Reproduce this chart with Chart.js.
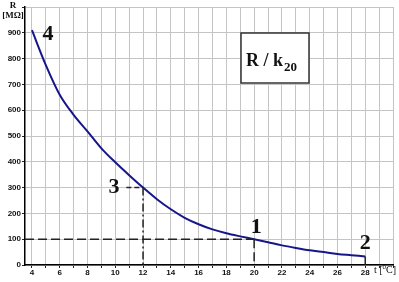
<!DOCTYPE html>
<html>
<head>
<meta charset="utf-8">
<script src="https://cdn.jsdelivr.net/npm/chart.js@4.4.0/dist/chart.umd.min.js"></script>
<style>
  body { margin: 0; background: #fff; }
  canvas { display: block; }
</style>
</head>
<body>
<canvas id="c" width="399" height="282"></canvas>
<script>
// temperature t [°C] and resistance R [MOhm]
const temps = [4, 5, 6, 7, 8, 9, 10, 11, 12, 13, 14, 15, 16, 17, 18, 19, 20, 21, 22, 23, 24, 25, 26, 27, 28];
const resist = [910, 775, 660, 582, 518, 452, 398, 348, 300, 255, 216, 183, 158, 138, 123, 111, 100, 88, 76, 66, 57, 50, 43, 38, 33];

// marked points 1..4
const markNames = ['1', '2', '3', '4'];
const markT = [20, 28, 12, 4];
const markR = [100, 33, 300, 910];

const xGrid = [4, 5, 6, 7, 8, 9, 10, 11, 12, 13, 14, 15, 16, 17, 18, 19, 20, 21, 22, 23, 24, 25, 26, 27, 28, 29, 30];
const xTickLabels = [4, 6, 8, 10, 12, 14, 16, 18, 20, 22, 24, 26, 28];
const yTickLabels = [0, 100, 200, 300, 400, 500, 600, 700, 800, 900];

const curve = temps.map((t, i) => ({ x: t, y: resist[i] }));

// helper lines for the marked points
const guide1h = [{ x: 3.5, y: markR[0] }, { x: markT[0], y: markR[0] }];
const guide1v = [{ x: markT[0], y: markR[0] }, { x: markT[0], y: 0 }];
const guide3h = [{ x: 10.8, y: markR[2] }, { x: markT[2], y: markR[2] }];
const guide3v = [{ x: markT[2], y: markR[2] }, { x: markT[2], y: 0 }];
const guide2v = [{ x: markT[1], y: markR[1] }, { x: markT[1], y: 0 }];

function guide(data, dash) {
  return {
    data: data,
    borderColor: '#222',
    borderWidth: 1.5,
    borderDash: dash,
    pointRadius: 0,
    tension: 0
  };
}

const labelsPlugin = {
  id: 'labels',
  afterDraw(chart) {
    const ctx = chart.ctx;
    const xs = chart.scales.x, ys = chart.scales.y;
    // offsets of the number labels from their points
    const off = { '1': [2, -12], '2': [0, -13], '3': [-29, 0], '4': [16, 4] };
    ctx.save();
    ctx.fillStyle = '#111';
    ctx.font = 'bold 22px "Liberation Serif", "Times New Roman", serif';
    ctx.textAlign = 'center';
    ctx.textBaseline = 'middle';
    markNames.forEach((n, i) => {
      const px = xs.getPixelForValue(markT[i]) + off[n][0];
      const py = ys.getPixelForValue(markR[i]) + off[n][1];
      ctx.fillText(n, px, py);
    });

    // R / k20 box
    ctx.fillStyle = '#fff';
    ctx.fillRect(241, 33, 68, 50);
    ctx.strokeStyle = '#333';
    ctx.lineWidth = 1.5;
    ctx.strokeRect(241, 33, 68, 50);
    ctx.fillStyle = '#111';
    ctx.textAlign = 'left';
    ctx.textBaseline = 'alphabetic';
    ctx.font = 'bold 18px "Liberation Serif", "Times New Roman", serif';
    ctx.fillText('R / k', 246, 66);
    const w = ctx.measureText('R / k').width;
    ctx.font = 'bold 13px "Liberation Serif", "Times New Roman", serif';
    ctx.fillText('20', 246 + w + 1, 71);

    // axis titles
    ctx.font = 'bold 9px "Liberation Serif", "Times New Roman", serif';
    ctx.textAlign = 'center';
    ctx.fillText('R', 13, 8);
    ctx.fillText('[MΩ]', 13, 18);
    ctx.textAlign = 'left';
    ctx.font = '10px "Liberation Serif", "Times New Roman", serif';
    ctx.fillText('t [', 374, 273);
    let tx = 374 + ctx.measureText('t [').width;
    ctx.font = '7px "Liberation Serif", "Times New Roman", serif';
    ctx.fillText('0', tx, 269);
    tx += ctx.measureText('0').width;
    ctx.font = '10px "Liberation Serif", "Times New Roman", serif';
    ctx.fillText('C]', tx, 273);
    ctx.restore();
  }
};

new Chart(document.getElementById('c'), {
  type: 'line',
  data: {
    datasets: [
      guide(guide1h, [9, 4]),
      guide(guide1v, [9, 4]),
      guide(guide3h, [5, 3]),
      guide(guide3v, [8, 3, 2, 3]),
      guide(guide2v, []),
      {
        data: curve,
        borderColor: '#16168a',
        borderWidth: 2,
        pointRadius: 0,
        cubicInterpolationMode: 'monotone'
      }
    ]
  },
  options: {
    responsive: false,
    animation: false,
    devicePixelRatio: 1,
    layout: { padding: { top: 7, right: 6, left: 0, bottom: 0 } },
    plugins: { legend: { display: false }, tooltip: { enabled: false } },
    scales: {
      x: {
        type: 'linear',
        min: 3.5,
        max: 30,
        afterBuildTicks(scale) { scale.ticks = xGrid.map(v => ({ value: v })); },
        afterFit(scale) { scale.height = 17; },
        border: { color: '#000', width: 1.5 },
        grid: { color: '#c4c4c4', lineWidth: 1, tickColor: '#222', tickLength: 3 },
        ticks: {
          autoSkip: false,
          maxRotation: 0,
          padding: 0,
          color: '#111',
          font: { family: 'Arial, "Liberation Sans"', size: 8, weight: 'bold' },
          callback(v) { return xTickLabels.includes(v) ? String(v) : ''; }
        }
      },
      y: {
        min: 0,
        max: 1000,
        afterFit(scale) { scale.width = 25; },
        border: { color: '#000', width: 1.5 },
        grid: { color: '#c4c4c4', lineWidth: 1, tickColor: '#222', tickLength: 3 },
        ticks: {
          stepSize: 100,
          padding: 1,
          color: '#111',
          font: { family: 'Arial, "Liberation Sans"', size: 8, weight: 'bold' },
          callback(v) { return yTickLabels.includes(v) ? String(v) : ''; }
        }
      }
    }
  },
  plugins: [labelsPlugin]
});
</script>
</body>
</html>
